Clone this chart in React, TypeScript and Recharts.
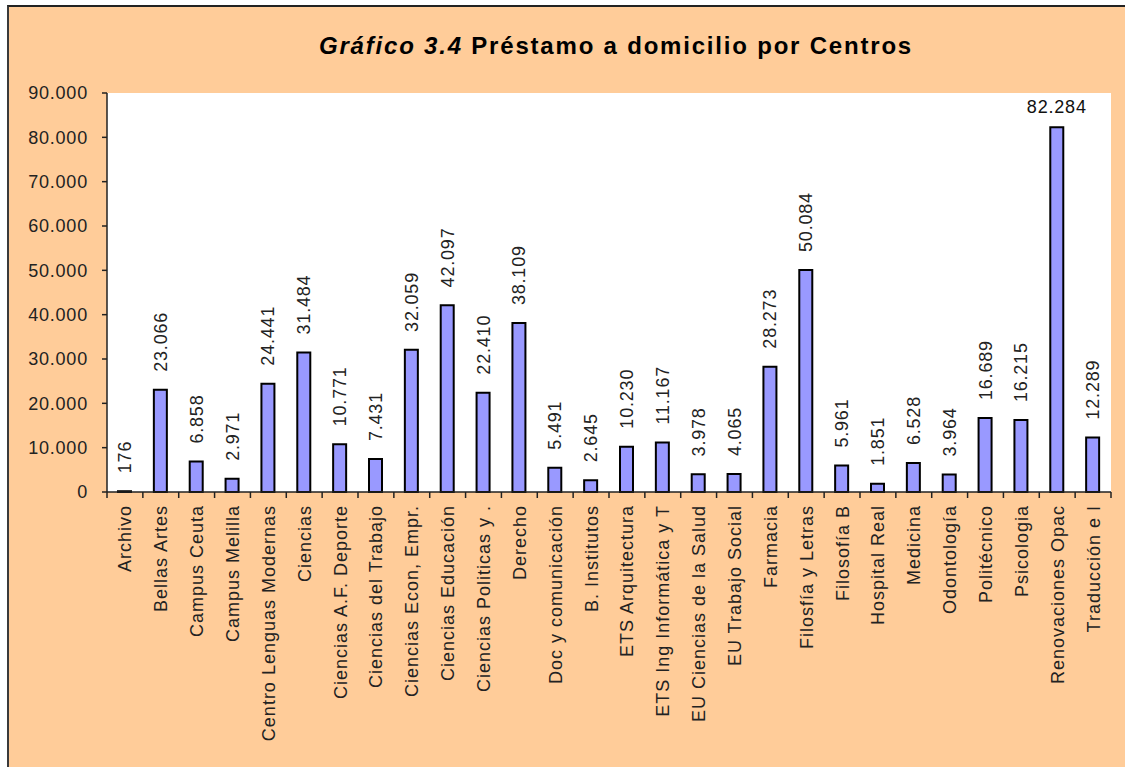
import { Bar, BarChart, CartesianGrid, LabelList, XAxis, YAxis } from 'recharts'

const centros = [
  'Archivo',
  'Bellas Artes',
  'Campus Ceuta',
  'Campus Melilla',
  'Centro Lenguas Modernas',
  'Ciencias',
  'Ciencias A.F. Deporte',
  'Ciencias del Trabajo',
  'Ciencias Econ, Empr.',
  'Ciencias Educación',
  'Ciencias Politicas y .',
  'Derecho',
  'Doc y comunicación',
  'B. Institutos',
  'ETS Arquitectura',
  'ETS Ing Informática y T',
  'EU Ciencias de la Salud',
  'EU Trabajo Social',
  'Farmacia',
  'Filosfía y Letras',
  'Filosofía B',
  'Hospital Real',
  'Medicina',
  'Odontología',
  'Politécnico',
  'Psicologia',
  'Renovaciones Opac',
  'Traducción e I',
]

const prestamos = [
  176, 23066, 6858, 2971, 24441, 31484, 10771, 7431, 32059, 42097, 22410, 38109, 5491, 2645,
  10230, 11167, 3978, 4065, 28273, 50084, 5961, 1851, 6528, 3964, 16689, 16215, 82284, 12289,
]

const yTicks = [0, 10000, 20000, 30000, 40000, 50000, 60000, 70000, 80000, 90000]

const data = centros.map((name, i) => ({ name, value: prestamos[i] }))

const W = 1125
const H = 767
const PLOT_LEFT = 107
const PLOT_RIGHT = 1111
const PLOT_TOP = 93
const PLOT_BOTTOM = 492
const BAND = (PLOT_RIGHT - PLOT_LEFT) / centros.length

const FONT = 'Arial, "Liberation Sans", sans-serif'

const fmt = (v: number) => v.toLocaleString('de-DE')

// Excel-style category ticks: marks between categories, labels rotated
function CategoryTick(props: any) {
  const { x, y, payload, index } = props
  const last = index === centros.length - 1
  return (
    <g transform={`translate(${x},${y})`}>
      <line x1={-BAND / 2} x2={-BAND / 2} y1={0} y2={6} stroke="#222" strokeWidth={1.5} />
      {last && <line x1={BAND / 2} x2={BAND / 2} y1={0} y2={6} stroke="#222" strokeWidth={1.5} />}
      <text
        transform="rotate(-90)"
        x={-13}
        y={0}
        dy="0.36em"
        textAnchor="end"
        fontSize={18}
        letterSpacing={1}
        fontFamily={FONT}
        fill="#222"
      >
        {payload.value}
      </text>
    </g>
  )
}

function ValueLabel(props: any) {
  const { x, y, width, value } = props
  const cx = x + width / 2
  if (y - PLOT_TOP < 70) {
    return (
      <text x={cx} y={y - 14} textAnchor="middle" fontSize={18} letterSpacing={0.8} fontFamily={FONT} fill="#111">
        {fmt(value)}
      </text>
    )
  }
  const by = y - 18
  return (
    <text
      transform={`rotate(-90 ${cx} ${by})`}
      x={cx}
      y={by}
      dy="0.36em"
      textAnchor="start"
      fontSize={18}
      letterSpacing={0.8}
      fontFamily={FONT}
      fill="#222"
    >
      {fmt(value)}
    </text>
  )
}

export default function App() {
  return (
    <div style={{ position: 'absolute', left: 0, top: 0, width: W, height: H, background: '#fff', overflow: 'hidden' }}>
      <div
        style={{
          position: 'absolute',
          left: 7,
          top: 5,
          width: W - 7,
          height: H - 5,
          background: '#FFCC99',
          borderLeft: '2px solid #3a3a3a',
          borderTop: '2px solid #222',
          boxSizing: 'border-box',
        }}
      />
      <div
        style={{
          position: 'absolute',
          left: 0,
          top: 32,
          width: 1232,
          textAlign: 'center',
          fontFamily: FONT,
          fontWeight: 'bold',
          fontSize: 24,
          letterSpacing: 1.8,
          color: '#000',
        }}
      >
        <i>Gráfico 3.4</i> Préstamo a domicilio por Centros
      </div>
      <div style={{ position: 'absolute', left: 0, top: 0 }}>
        <BarChart
          width={W}
          height={H}
          data={data}
          margin={{ top: PLOT_TOP, right: W - PLOT_RIGHT, bottom: 0, left: 0 }}
          barCategoryGap={0}
        >
          <CartesianGrid fill="#ffffff" horizontal={false} vertical={false} stroke="none" />
          <XAxis
            dataKey="name"
            interval={0}
            height={H - PLOT_BOTTOM}
            tickSize={0}
            tickMargin={0}
            tickLine={false}
            axisLine={{ stroke: '#222', strokeWidth: 1.5 }}
            tick={<CategoryTick />}
          />
          <XAxis xAxisId="top" orientation="top" dataKey="name" height={0} tick={false} tickLine={false} axisLine={{ stroke: '#8a8a8a', strokeWidth: 1.5 }} />
          <YAxis
            domain={[0, 90000]}
            ticks={yTicks}
            interval={0}
            width={PLOT_LEFT}
            tickFormatter={fmt}
            tickSize={5}
            tickMargin={14}
            tickLine={{ stroke: '#222', strokeWidth: 1.5 }}
            axisLine={{ stroke: '#222', strokeWidth: 1.5 }}
            tick={{ fontSize: 18, fill: '#222', fontFamily: FONT, letterSpacing: 0.8 }}
          />
          <YAxis yAxisId="right" orientation="right" width={0} tick={false} tickLine={false} axisLine={{ stroke: '#8a8a8a', strokeWidth: 1.5 }} />
          <Bar dataKey="value" fill="#9999FF" stroke="#000" strokeWidth={2} barSize={13} isAnimationActive={false}>
            <LabelList dataKey="value" content={<ValueLabel />} />
          </Bar>
        </BarChart>
      </div>
    </div>
  )
}
